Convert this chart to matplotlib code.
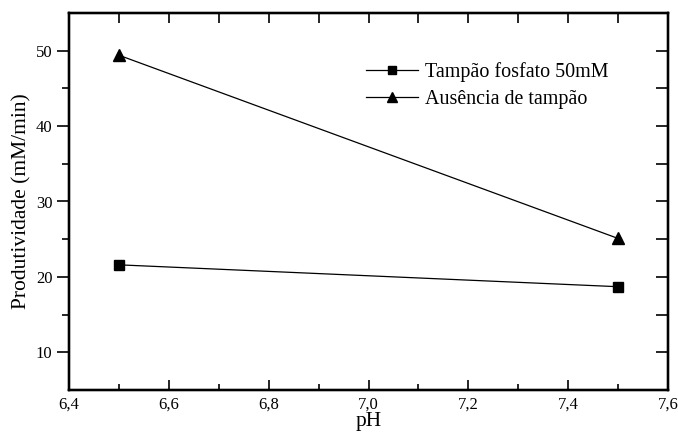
import matplotlib
matplotlib.use("Agg")
import matplotlib.pyplot as plt
from matplotlib.ticker import MultipleLocator, FixedLocator, FuncFormatter

plt.rcParams["font.family"] = ["Liberation Serif", "DejaVu Serif"]

ph = [6.5, 7.5]
fosfato = [21.6, 18.7]
semTampao = [49.4, 25.1]
labels = ["Tampão fosfato 50mM", "Ausência de tampão"]

fig = plt.figure(figsize=(6.78, 4.36), dpi=100)
ax = fig.add_axes([69 / 678, 1 - 390 / 436, 599 / 678, 377 / 436])

ax.plot(ph, fosfato, color="black", linewidth=0.9, marker="s", markersize=7, label=labels[0])
ax.plot(ph, semTampao, color="black", linewidth=0.9, marker="^", markersize=8, label=labels[1])

ax.set_xlim(6.4, 7.6)
ax.set_ylim(5, 55)
ax.xaxis.set_major_locator(MultipleLocator(0.2))
ax.xaxis.set_minor_locator(MultipleLocator(0.1))
ax.yaxis.set_major_locator(MultipleLocator(10))
ax.yaxis.set_minor_locator(FixedLocator([15, 25, 35, 45]))
ax.xaxis.set_major_formatter(FuncFormatter(lambda v, p: f"{v:.1f}".replace(".", ",")))
ax.yaxis.set_major_formatter(FuncFormatter(lambda v, p: f"{v:.0f}"))

for s in ax.spines.values():
    s.set_linewidth(1.6)

# x ticks inward at the bottom
ax.tick_params(axis="x", which="both", direction="in", top=False, labelsize=12, width=1.2, pad=5)
ax.tick_params(axis="x", which="major", length=7)
ax.tick_params(axis="x", which="minor", length=4)
# y ticks outward on the left
ax.tick_params(axis="y", which="both", direction="out", labelsize=12, width=1.2, pad=3)
ax.tick_params(axis="y", which="major", length=9)
ax.tick_params(axis="y", which="minor", length=5)

# top ticks every 0.1, inward
axTop = ax.twiny()
axTop.set_xlim(ax.get_xlim())
axTop.xaxis.set_major_locator(FixedLocator([6.5, 6.6, 6.7, 6.8, 6.9, 7.0, 7.1, 7.2, 7.3, 7.4, 7.5]))
axTop.tick_params(axis="x", direction="in", length=7, width=1.2, labeltop=False, bottom=False)

# right ticks every 5, inward
axRight = ax.twinx()
axRight.set_ylim(ax.get_ylim())
axRight.yaxis.set_major_locator(FixedLocator([10, 15, 20, 25, 30, 35, 40, 45, 50]))
axRight.tick_params(axis="y", direction="in", length=9, width=1.2, labelright=False, left=False)
for a in (axTop, axRight):
    for s in a.spines.values():
        s.set_linewidth(1.6)

ax.set_xlabel("pH", fontsize=15.5, labelpad=-1)
ax.set_ylabel("Produtividade (mM/min)", fontsize=15.5, labelpad=3)

ax.legend(loc="upper left", bbox_to_anchor=(0.495, 0.87), frameon=False, fontsize=14.4,
          handlelength=2.6, handletextpad=0.35, labelspacing=0.4, borderpad=0, borderaxespad=0,
          markerscale=0.85)

fig.savefig("out.png", dpi=100)
